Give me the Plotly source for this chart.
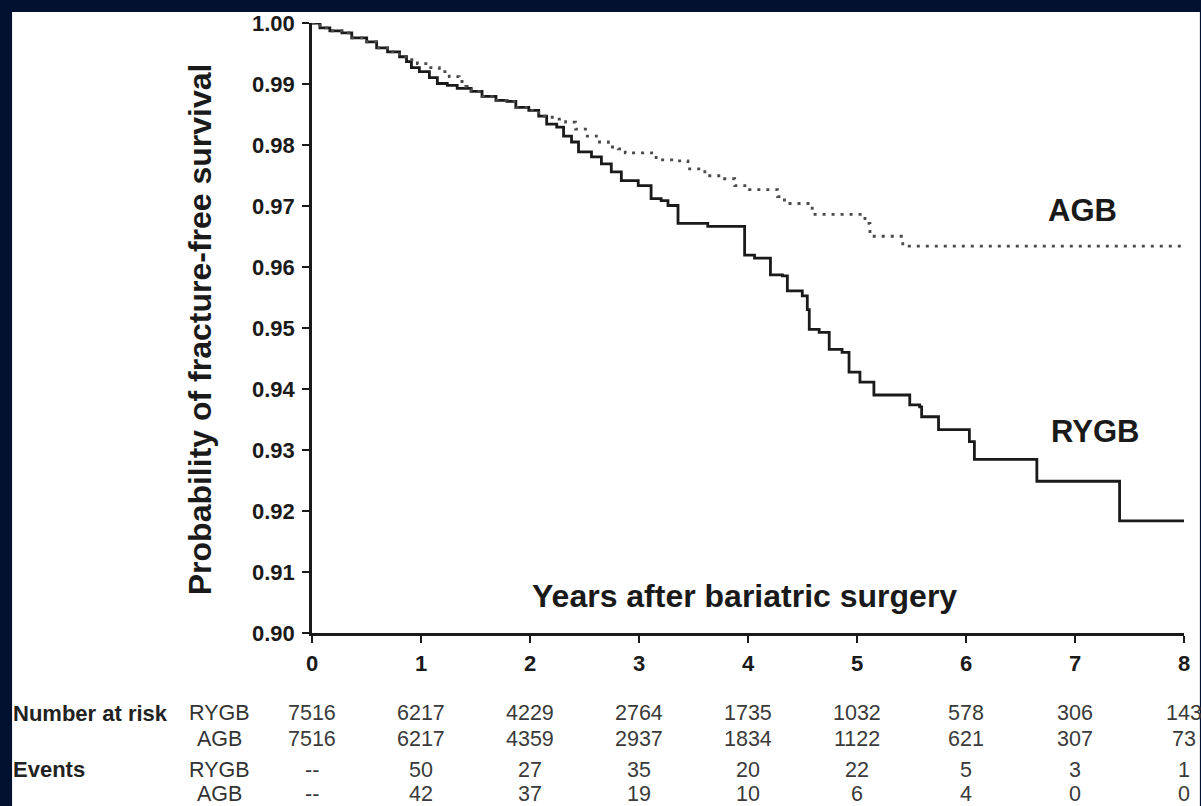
import plotly.graph_objects as go

# ---------------- data ----------------
years_ticks = [0, 1, 2, 3, 4, 5, 6, 7, 8]

rygb_x = [0.000, 0.073, 0.164, 0.274, 0.365, 0.502, 0.593, 0.693, 0.803, 0.867,
          0.912, 0.985, 1.077, 1.150, 1.241, 1.332, 1.460, 1.560, 1.688, 1.788,
          1.870, 1.989, 2.080, 2.153, 2.245, 2.308, 2.381, 2.445, 2.564, 2.655,
          2.746, 2.838, 2.993, 3.111, 3.203, 3.266, 3.358, 3.604, 3.631, 3.814,
          3.969, 4.060, 4.206, 4.316, 4.361, 4.498, 4.544, 4.562, 4.653, 4.745,
          4.863, 4.927, 5.027, 5.155, 5.456, 5.484, 5.575, 5.593, 5.748, 5.748,
          6.022, 6.031, 6.077, 6.642, 6.650, 7.409, 7.409, 8.000]
rygb_y = [1.00000, 0.99919, 0.99870, 0.99837, 0.99756, 0.99691, 0.99593, 0.99528, 0.99447, 0.99366,
          0.99268, 0.99203, 0.99106, 0.99008, 0.98976, 0.98927, 0.98878, 0.98797, 0.98732, 0.98715,
          0.98618, 0.98569, 0.98472, 0.98341, 0.98293, 0.98146, 0.98049, 0.97886, 0.97805, 0.97691,
          0.97561, 0.97415, 0.97333, 0.97122, 0.97089, 0.97008, 0.96715, 0.96715, 0.96667, 0.96667,
          0.96195, 0.96146, 0.95870, 0.95854, 0.95610, 0.95528, 0.95301, 0.94976, 0.94927, 0.94650,
          0.94602, 0.94276, 0.94114, 0.93902, 0.93902, 0.93740, 0.93707, 0.93545, 0.93512, 0.93333,
          0.93333, 0.93138, 0.92846, 0.92846, 0.92488, 0.92488, 0.91837, 0.91837]

agb_x = [0.000, 0.073, 0.164, 0.274, 0.365, 0.502, 0.593, 0.693, 0.803, 0.894,
         0.967, 1.058, 1.168, 1.259, 1.350, 1.396, 1.423, 1.460, 1.560, 1.688,
         1.788, 1.870, 1.989, 2.080, 2.144, 2.245, 2.327, 2.418, 2.509, 2.609,
         2.719, 2.810, 2.874, 3.057, 3.157, 3.339, 3.449, 3.604, 3.750, 3.878,
         3.969, 4.015, 4.179, 4.270, 4.334, 4.516, 4.589, 5.046, 5.073, 5.119,
         5.383, 5.420, 8.000]
agb_y = [1.00000, 0.99919, 0.99870, 0.99837, 0.99756, 0.99691, 0.99593, 0.99528, 0.99447, 0.99398,
         0.99333, 0.99268, 0.99203, 0.99122, 0.99041, 0.98959, 0.98911, 0.98878, 0.98797, 0.98732,
         0.98715, 0.98618, 0.98569, 0.98472, 0.98455, 0.98423, 0.98374, 0.98260, 0.98146, 0.98049,
         0.97967, 0.97935, 0.97870, 0.97870, 0.97756, 0.97740, 0.97610, 0.97496, 0.97447, 0.97333,
         0.97333, 0.97268, 0.97268, 0.97154, 0.97041, 0.97041, 0.96862, 0.96862, 0.96715, 0.96504,
         0.96504, 0.96341, 0.96341]

at_risk_rygb = ["7516", "6217", "4229", "2764", "1735", "1032", "578", "306", "143"]
at_risk_agb = ["7516", "6217", "4359", "2937", "1834", "1122", "621", "307", "73"]
events_rygb = ["--", "50", "27", "35", "20", "22", "5", "3", "1"]
events_agb = ["--", "42", "37", "19", "10", "6", "4", "0", "0"]

y_ticks = [0.90, 0.91, 0.92, 0.93, 0.94, 0.95, 0.96, 0.97, 0.98, 0.99, 1.00]

# ---------------- figure ----------------
W, H = 1201, 806
ML, MR, MT, MB = 312, 11, 18, 173
PW, PH = W - ML - MR, H - MT - MB

def px_x(p):
    return (p - ML) / PW

def px_y(p):
    return (H - MB - p) / PH

FONT = "Liberation Sans, Arial, sans-serif"
INK = "#1a1a1a"
NAVY = "#01112f"

fig = go.Figure()
fig.add_trace(go.Scatter(x=rygb_x, y=rygb_y, mode="lines", name="RYGB",
                         line=dict(color=INK, width=2.8, shape="hv")))
fig.add_trace(go.Scatter(x=agb_x, y=agb_y, mode="lines", name="AGB",
                         line=dict(color="#4a4a4a", width=2.8, shape="hv", dash="3px,6px")))

axis_common = dict(showgrid=False, zeroline=False, showline=True, linewidth=2.6,
                   linecolor=INK, ticks="outside", ticklen=7, tickwidth=2.2,
                   tickcolor=INK,
                   tickfont=dict(family=FONT, size=22, color=INK, weight="bold"))

fig.update_layout(
    width=W, height=H,
    margin=dict(l=ML, r=MR, t=MT, b=MB, pad=0),
    paper_bgcolor=NAVY, plot_bgcolor="white",
    showlegend=False,
    xaxis=dict(range=[0, 8], tickvals=years_ticks, ticklabelstandoff=2, **axis_common),
    yaxis=dict(range=[0.90, 1.00], tickvals=y_ticks, tickformat=".2f",
               ticklabelstandoff=3, **axis_common),
)

# white page area inside the navy frame
fig.add_shape(type="rect", xref="paper", yref="paper", layer="below",
              x0=px_x(10), x1=px_x(W + 5), y0=px_y(H + 5), y1=px_y(7),
              fillcolor="white", line=dict(width=0))

ann = []
# axis titles
ann.append(dict(text="Probability of fracture-free survival", xref="paper", yref="paper",
                x=px_x(200), y=px_y(327), textangle=-90, showarrow=False,
                xanchor="center", yanchor="middle",
                font=dict(family=FONT, size=32, color=INK, weight="bold")))
ann.append(dict(text="Years after bariatric surgery", xref="paper", yref="paper",
                x=px_x(747), y=px_y(596), showarrow=False,
                xanchor="center", yanchor="middle",
                font=dict(family=FONT, size=32, color=INK, weight="bold")))
# curve labels
ann.append(dict(text="AGB", xref="x", yref="y", x=7.07, y=0.9692, showarrow=False,
                xanchor="center", yanchor="middle",
                font=dict(family=FONT, size=31, color=INK, weight="bold")))
ann.append(dict(text="RYGB", xref="x", yref="y", x=7.18, y=0.9330, showarrow=False,
                xanchor="center", yanchor="middle",
                font=dict(family=FONT, size=31, color=INK, weight="bold")))

# risk table
row_px = [714, 740, 771, 795]
rows = [at_risk_rygb, at_risk_agb, events_rygb, events_agb]
row_groups = ["RYGB", "AGB", "RYGB", "AGB"]
head = {0: "Number at risk", 2: "Events"}
for i, (vals, grp, ry) in enumerate(zip(rows, row_groups, row_px)):
    if i in head:
        ann.append(dict(text=head[i], xref="paper", yref="paper", x=px_x(9), y=px_y(ry),
                        showarrow=False, xanchor="left", yanchor="middle",
                        font=dict(family=FONT, size=22, color="#222222", weight="bold")))
    ann.append(dict(text=grp, xref="paper", yref="paper", x=px_x(219), y=px_y(ry),
                    showarrow=False, xanchor="center", yanchor="middle",
                    font=dict(family=FONT, size=21.5, color="#333333")))
    for yr, v in zip(years_ticks, vals):
        ann.append(dict(text=v, xref="x", yref="paper", x=yr, y=px_y(ry),
                        showarrow=False, xanchor="center", yanchor="middle",
                        font=dict(family=FONT, size=21.5, color="#3a3a3a")))

fig.update_layout(annotations=ann)
fig.write_html("out.html")
